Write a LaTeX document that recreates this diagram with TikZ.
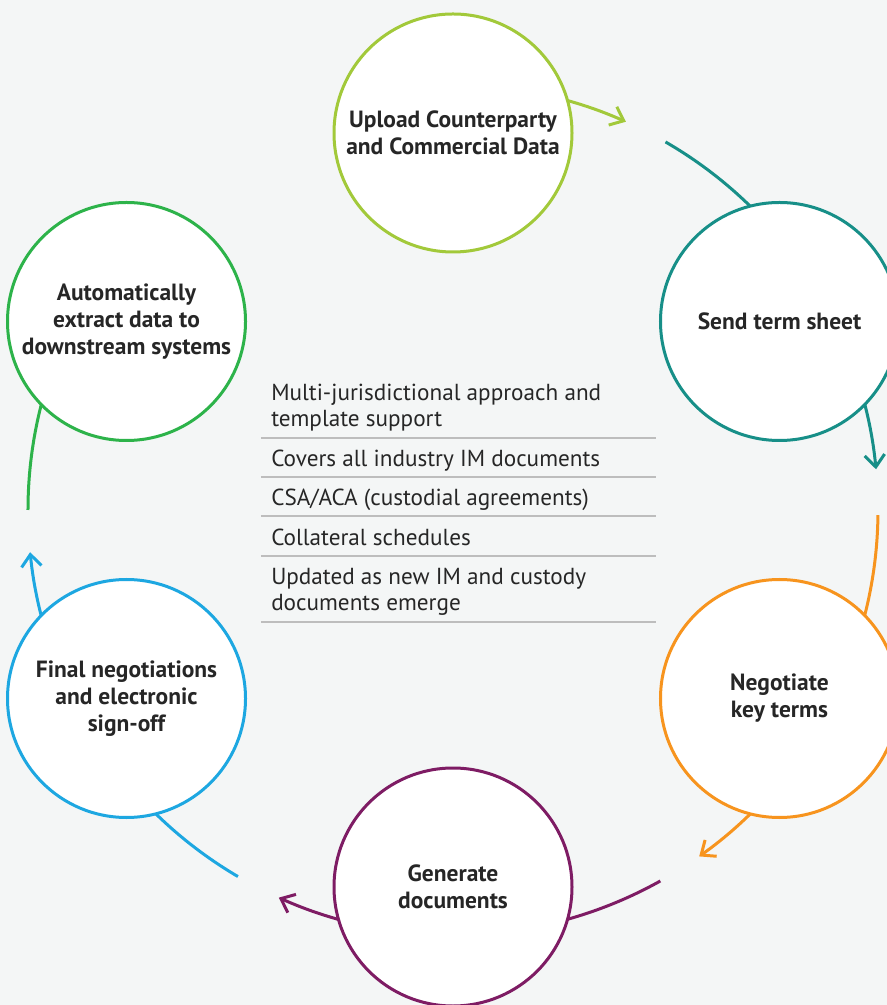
\documentclass[tikz,border=0pt]{standalone}
\usepackage{fontspec}
\setmainfont{PT Sans}
\usetikzlibrary{arrows.meta}
\definecolor{bgc}{HTML}{F4F6F6}
\definecolor{limec}{HTML}{A2C93A}
\definecolor{tealc}{HTML}{178F88}
\definecolor{orangec}{HTML}{F7941E}
\definecolor{plumc}{HTML}{7E1C64}
\definecolor{bluec}{HTML}{1DA7E1}
\definecolor{greenc}{HTML}{2DB34A}
\definecolor{txtc}{HTML}{262626}
\definecolor{rulec}{HTML}{BDBDBD}

\begin{document}
\begin{tikzpicture}[x=0.75pt,y=0.75pt,
    stage/.style={circle,draw=#1,line width=2.25pt,fill=white,minimum size=178.5pt,
      inner sep=0pt,align=center,text=txtc,font=\fontsize{17.6}{20.25}\selectfont\bfseries},
    flow/.style={draw=#1,line width=2.25pt},
    flowtip/.style={flow=#1,-{Straight Barb[length=9pt,width=15pt]}},
    item/.style={anchor=west,align=left,text=txtc,inner sep=0pt,
      font=\fontsize{17.4}{19.5}\selectfont},
    sep/.style={draw=rulec,line width=1pt}]
      \fill[bgc] (-453,-495) rectangle (434,510);
      \clip (-453,-495) rectangle (434,510);
      % connecting arcs
      \draw[flowtip=limec] (90:425) arc[start angle=90,end angle=66,radius=425];
      \draw[flow=tealc] (60:425) arc[start angle=60,end angle=30,radius=425];
      \draw[flowtip=tealc] (30:425) arc[start angle=30,end angle=5.5,radius=425];
      \draw[flow=orangec] (-0.7:425) arc[start angle=-0.7,end angle=-30,radius=425];
      \draw[flowtip=orangec] (-30:425) arc[start angle=-30,end angle=-54.6,radius=425];
      \draw[flow=plumc] (-60.8:425) arc[start angle=-60.8,end angle=-90,radius=425];
      \draw[flowtip=plumc] (-90:425) arc[start angle=-90,end angle=-114.2,radius=425];
      \draw[flow=bluec] (-120.4:425) arc[start angle=-120.4,end angle=-150,radius=425];
      \draw[flowtip=bluec] (-150:425) arc[start angle=-150,end angle=-174.3,radius=425];
      \draw[flow=greenc] (-180:425) arc[start angle=-180,end angle=-210,radius=425];
      % stages
      \node[stage=limec] (upload) at (90:377) {Upload Counterparty\\and Commercial Data};
      \node[stage=tealc] (send) at (30:377) {Send term sheet};
      \node[stage=orangec] (negotiate) at (-30:377) {Negotiate\\key terms};
      \node[stage=plumc] (generate) at (-90:377) {Generate\\documents};
      \node[stage=bluec] (final) at (-150:377) {Final negotiations\\and electronic\\sign-off};
      \node[stage=greenc] (extract) at (150:377) {Automatically\\extract data to\\downstream systems};
      % feature list
      \node[item] (multi) at (-182,102) {Multi-jurisdictional approach and\\template support};
      \node[item] (covers) at (-182,49) {Covers all industry IM documents};
      \node[item] (csa) at (-182,10) {CSA/ACA (custodial agreements)};
      \node[item] (collat) at (-182,-27) {Collateral schedules};
      \node[item] (updated) at (-182,-82) {Updated as new IM and custody\\documents emerge};
      \draw[sep] (-192,72) -- (203,72);
      \draw[sep] (-192,33) -- (203,33);
      \draw[sep] (-192,-6) -- (203,-6);
      \draw[sep] (-192,-46) -- (203,-46);
      \draw[sep] (-192,-112) -- (203,-112);
\end{tikzpicture}
\end{document}
